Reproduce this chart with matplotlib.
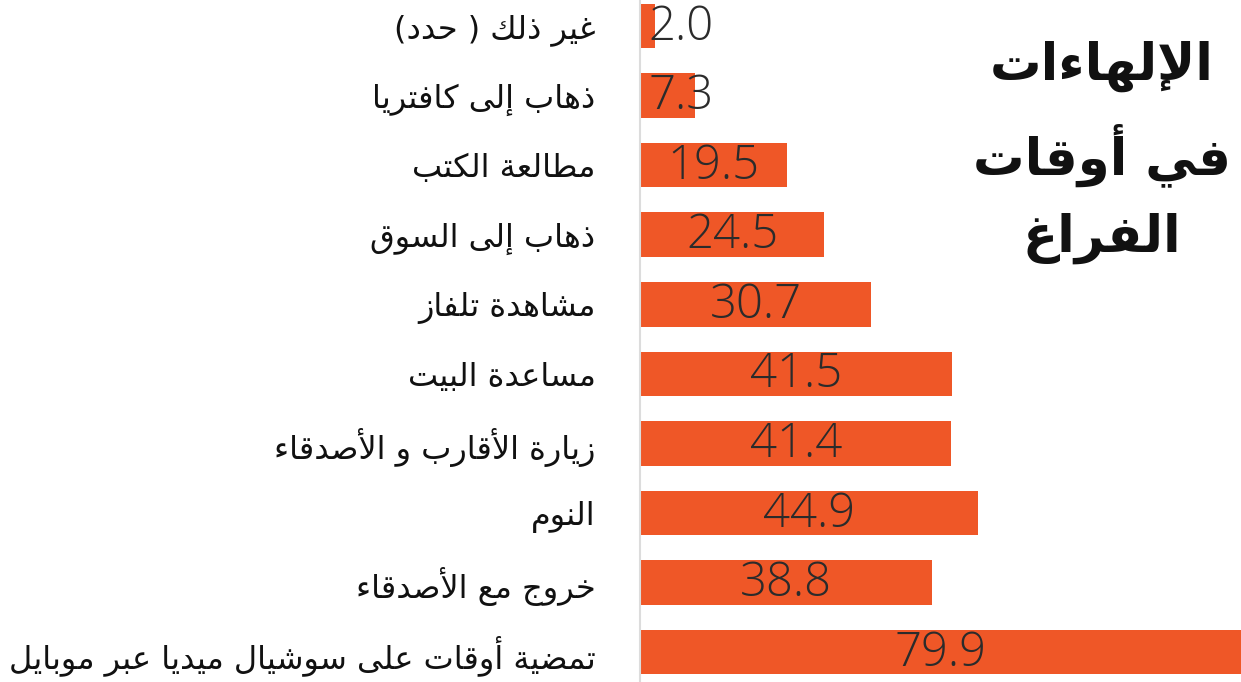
import matplotlib
matplotlib.use("Agg")
import matplotlib.pyplot as plt

# Arabic presentation forms: isolated, final, initial, medial
FORMS = {
    'ء': ('\uFE80', None, None, None),
    'آ': ('\uFE81', '\uFE82', None, None),
    'أ': ('\uFE83', '\uFE84', None, None),
    'ؤ': ('\uFE85', '\uFE86', None, None),
    'إ': ('\uFE87', '\uFE88', None, None),
    'ئ': ('\uFE89', '\uFE8A', '\uFE8B', '\uFE8C'),
    'ا': ('\uFE8D', '\uFE8E', None, None),
    'ب': ('\uFE8F', '\uFE90', '\uFE91', '\uFE92'),
    'ة': ('\uFE93', '\uFE94', None, None),
    'ت': ('\uFE95', '\uFE96', '\uFE97', '\uFE98'),
    'ث': ('\uFE99', '\uFE9A', '\uFE9B', '\uFE9C'),
    'ج': ('\uFE9D', '\uFE9E', '\uFE9F', '\uFEA0'),
    'ح': ('\uFEA1', '\uFEA2', '\uFEA3', '\uFEA4'),
    'خ': ('\uFEA5', '\uFEA6', '\uFEA7', '\uFEA8'),
    'د': ('\uFEA9', '\uFEAA', None, None),
    'ذ': ('\uFEAB', '\uFEAC', None, None),
    'ر': ('\uFEAD', '\uFEAE', None, None),
    'ز': ('\uFEAF', '\uFEB0', None, None),
    'س': ('\uFEB1', '\uFEB2', '\uFEB3', '\uFEB4'),
    'ش': ('\uFEB5', '\uFEB6', '\uFEB7', '\uFEB8'),
    'ص': ('\uFEB9', '\uFEBA', '\uFEBB', '\uFEBC'),
    'ض': ('\uFEBD', '\uFEBE', '\uFEBF', '\uFEC0'),
    'ط': ('\uFEC1', '\uFEC2', '\uFEC3', '\uFEC4'),
    'ظ': ('\uFEC5', '\uFEC6', '\uFEC7', '\uFEC8'),
    'ع': ('\uFEC9', '\uFECA', '\uFECB', '\uFECC'),
    'غ': ('\uFECD', '\uFECE', '\uFECF', '\uFED0'),
    'ف': ('\uFED1', '\uFED2', '\uFED3', '\uFED4'),
    'ق': ('\uFED5', '\uFED6', '\uFED7', '\uFED8'),
    'ك': ('\uFED9', '\uFEDA', '\uFEDB', '\uFEDC'),
    'ل': ('\uFEDD', '\uFEDE', '\uFEDF', '\uFEE0'),
    'م': ('\uFEE1', '\uFEE2', '\uFEE3', '\uFEE4'),
    'ن': ('\uFEE5', '\uFEE6', '\uFEE7', '\uFEE8'),
    'ه': ('\uFEE9', '\uFEEA', '\uFEEB', '\uFEEC'),
    'و': ('\uFEED', '\uFEEE', None, None),
    'ى': ('\uFEEF', '\uFEF0', None, None),
    'ي': ('\uFEF1', '\uFEF2', '\uFEF3', '\uFEF4'),
    'لآ': ('\uFEF5', '\uFEF6', None, None),
    'لأ': ('\uFEF7', '\uFEF8', None, None),
    'لإ': ('\uFEF9', '\uFEFA', None, None),
    'لا': ('\uFEFB', '\uFEFC', None, None),
}
MIRROR = {'(': ')', ')': '('}


def ar(text):
    # join letters into their contextual forms, then lay out right-to-left
    units = []
    i = 0
    while i < len(text):
        pair = text[i:i + 2]
        if pair in FORMS and len(pair) == 2:
            units.append(pair)
            i += 2
        else:
            units.append(text[i])
            i += 1
    out = []
    for k, u in enumerate(units):
        if u not in FORMS:
            out.append(MIRROR.get(u, u))
            continue
        iso, fin, ini, med = FORMS[u]
        prev = units[k - 1] if k > 0 else None
        nxt = units[k + 1] if k + 1 < len(units) else None
        jp = fin is not None and prev in FORMS and FORMS[prev][2] is not None
        jn = ini is not None and nxt in FORMS and FORMS[nxt][1] is not None
        if jp and jn:
            out.append(med)
        elif jp:
            out.append(fin)
        elif jn:
            out.append(ini)
        else:
            out.append(iso)
    return ''.join(reversed(out))


categories = [
    'غير ذلك ( حدد)',
    'ذهاب إلى كافتريا',
    'مطالعة الكتب',
    'ذهاب إلى السوق',
    'مشاهدة تلفاز',
    'مساعدة البيت',
    'زيارة الأقارب و الأصدقاء',
    'النوم',
    'خروج مع الأصدقاء',
    'تمضية أوقات على سوشيال ميديا عبر موبايل',
]
values = [2.0, 7.3, 19.5, 24.5, 30.7, 41.5, 41.4, 44.9, 38.8, 79.9]
title_lines = ['الإلهاءات', 'في أوقات', 'الفراغ']

W, H = 1241, 682
fig = plt.figure(figsize=(W / 100, H / 100), dpi=100)
ax = fig.add_axes([640 / W, 0, 1 - 640 / W, 1])

y = list(range(len(values)))
ax.barh(y, values, height=0.64, color='#EF5727')
ax.set_xlim(0, max(values))
ax.set_ylim(9.43, -0.374)

# value labels sit mid-bar, but never slide left past the axis line
for yi, v in zip(y, values):
    ax.text(max(v / 2, 5.5), yi + 0.02, f'{v:.1f}', ha='center', va='center',
            fontsize=34, family='Open Sans', fontweight='light', color='#2b2b2b')

ax.set_yticks(y)
ax.set_yticklabels([ar(c) for c in categories], fontsize=23,
                   family='DejaVu Sans', color='#111111')
ax.tick_params(axis='y', length=0, pad=32)
ax.set_xticks([])
for side in ['top', 'right', 'bottom']:
    ax.spines[side].set_visible(False)
ax.spines['left'].set_color('#dcdcdc')
ax.spines['left'].set_linewidth(1.5)

for line, ty in zip(title_lines, [66, 155, 238]):
    fig.text(1102 / W, 1 - ty / H, ar(line), ha='center', va='center',
             fontsize=37, fontweight='bold', family='DejaVu Sans', color='#111111')

fig.savefig('out.png', dpi=100)
